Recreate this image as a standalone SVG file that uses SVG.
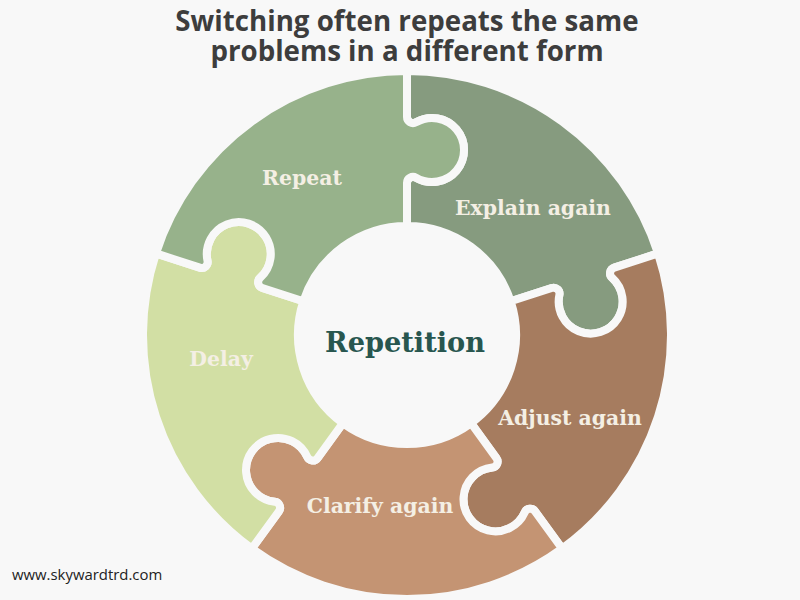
<svg xmlns="http://www.w3.org/2000/svg" width="800" height="600" viewBox="0 0 800 600">
<style>
.bg{fill:#f8f8f8}
.piece{stroke:#f8f8f8;stroke-width:8;stroke-linejoin:round}
.title{font-family:"Open Sans","Liberation Sans",sans-serif;font-weight:700;font-size:27.7px;fill:#3d3d3d;text-anchor:middle}
.lbl{font-family:"DejaVu Serif","Liberation Serif",serif;font-weight:700;font-size:20.4px;fill:#f4efe4;text-anchor:middle}
.center{font-family:"DejaVu Serif","Liberation Serif",serif;font-weight:700;font-size:27.2px;fill:#28564f;text-anchor:middle}
.wm{font-family:"Open Sans","Liberation Sans",sans-serif;font-size:14.9px;fill:#222}
</style>
<rect class="bg" x="0" y="0" width="800" height="600"/>
<text class="title" x="407" y="31">Switching often repeats the same</text>
<text class="title" x="407" y="61">problems in a different form</text>
<g id="explain-again">
<path class="piece" fill="#869b7f" d="M 407 71 A 264 264 0 0 1 658.08 253.42 L 614.24 267.67 A 6 6 0 0 0 612.07 277.83 A 32 32 0 1 1 559.38 294.95 A 6 6 0 0 0 551.66 288.00 L 510.67 301.32 A 109 109 0 0 0 407 226 L 407 182.9 A 6 6 0 0 1 416.0 177.7 A 32 32 0 1 0 416.0 122.3 A 6 6 0 0 1 407 117.1 Z"/>
<text class="lbl" x="533" y="215">Explain again</text>
</g>
<g id="adjust-again">
<path class="piece" fill="#a67c5f" d="M 658.08 253.42 A 264 264 0 0 1 562.18 548.58 L 535.08 511.29 A 6 6 0 0 0 524.74 512.37 A 32 32 0 1 1 492.18 467.55 A 6 6 0 0 0 496.40 458.05 L 471.07 423.18 A 109 109 0 0 0 510.67 301.32 L 551.66 288.00 A 6 6 0 0 1 559.38 294.95 A 32 32 0 1 0 612.07 277.83 A 6 6 0 0 1 614.24 267.67 Z"/>
<text class="lbl" x="570" y="425">Adjust again</text>
</g>
<g id="clarify-again">
<path class="piece" fill="#c49473" d="M 562.18 548.58 A 264 264 0 0 1 251.82 548.58 L 278.92 511.29 A 6 6 0 0 0 274.70 501.79 A 32 32 0 1 1 307.26 456.97 A 6 6 0 0 0 317.60 458.05 L 342.93 423.18 A 109 109 0 0 0 471.07 423.18 L 496.40 458.05 A 6 6 0 0 1 492.18 467.55 A 32 32 0 1 0 524.74 512.37 A 6 6 0 0 1 535.08 511.29 Z"/>
<text class="lbl" x="380" y="513">Clarify again</text>
</g>
<g id="delay">
<path class="piece" fill="#d2dfa4" d="M 251.82 548.58 A 264 264 0 0 1 155.92 253.42 L 199.76 267.67 A 6 6 0 0 0 207.49 260.71 A 32 32 0 1 1 260.18 277.83 A 6 6 0 0 0 262.34 288.00 L 303.33 301.32 A 109 109 0 0 0 342.93 423.18 L 317.60 458.05 A 6 6 0 0 1 307.26 456.97 A 32 32 0 1 0 274.70 501.79 A 6 6 0 0 1 278.92 511.29 Z"/>
<text class="lbl" x="221" y="366">Delay</text>
</g>
<g id="repeat">
<path class="piece" fill="#97b28b" d="M 155.92 253.42 A 264 264 0 0 1 407 71 L 407 117.1 A 6 6 0 0 0 416.0 122.3 A 32 32 0 1 1 416.0 177.7 A 6 6 0 0 0 407 182.9 L 407 226 A 109 109 0 0 0 303.33 301.32 L 262.34 288.00 A 6 6 0 0 1 260.18 277.83 A 32 32 0 1 0 207.49 260.71 A 6 6 0 0 1 199.76 267.67 Z"/>
<text class="lbl" x="302" y="185">Repeat</text>
</g>
<g id="repetition">
<text class="center" x="405" y="352">Repetition</text>
</g>
<g id="connectors"></g>
<text class="wm" x="12" y="580">www.skywardtrd.com</text>
</svg>
